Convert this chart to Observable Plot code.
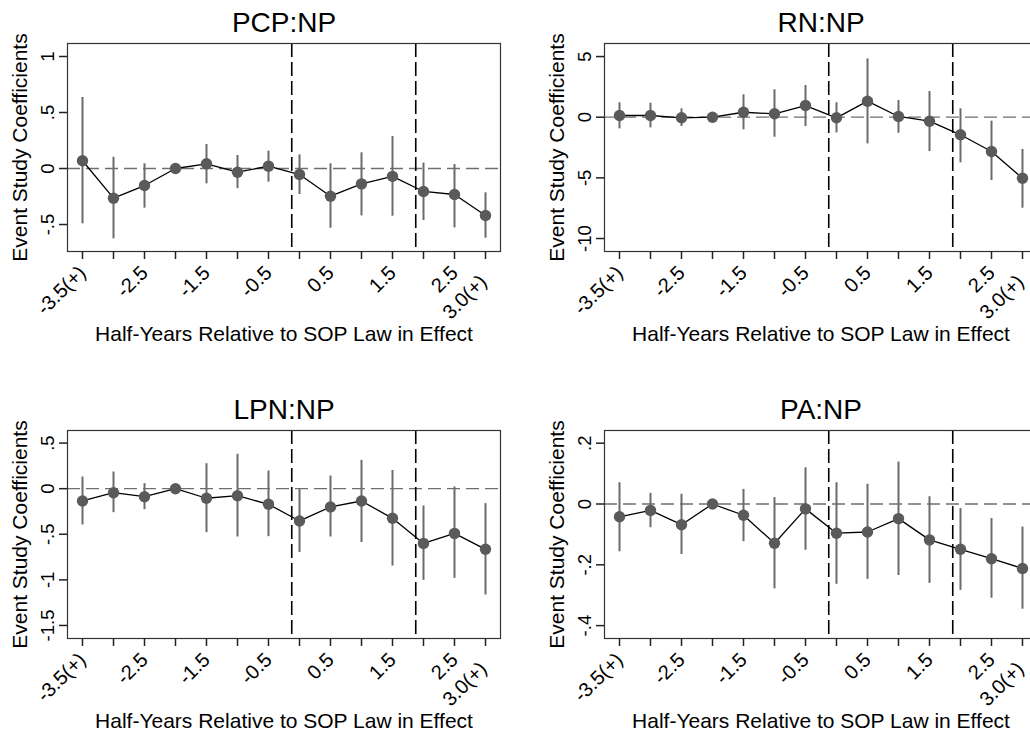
<!DOCTYPE html>
<html><head><meta charset="utf-8">
<script src="https://cdn.jsdelivr.net/npm/d3@7"></script>
<script src="https://cdn.jsdelivr.net/npm/@observablehq/plot@0.6"></script>
<style>
body{margin:0;background:#fff;overflow:hidden}
#wrap{position:relative;width:1030px;height:734px;overflow:hidden;background:#fff}
.panel{position:absolute;width:515px;height:367px}
.panel svg{max-width:none !important;width:515px;height:367px}
</style></head><body><div id="wrap"></div>
<script>
// ---- data ----
const periods = [-3.5,-3,-2.5,-2,-1.5,-1,-0.5,0,0.5,1,1.5,2,2.5,3];
const periodLabels = ["-3.5(+)","","-2.5","","-1.5","","-0.5","","0.5","","1.5","","2.5","3.0(+)"];
const lawLines = [-0.125, 1.875];
const titles = ["PCP:NP","RN:NP","LPN:NP","PA:NP"];
const xTitle = "Half-Years Relative to SOP Law in Effect";
const yTitle = "Event Study Coefficients";

const pcpCoef = [0.069,-0.265,-0.152,0,0.042,-0.033,0.021,-0.054,-0.247,-0.137,-0.07,-0.205,-0.232,-0.42];
const pcpHi   = [0.634,0.10,0.042,null,0.214,0.116,0.155,0.122,0.042,0.14,0.286,0.048,0.036,-0.217];
const pcpLo   = [-0.494,-0.628,-0.354,null,-0.137,-0.18,-0.122,-0.232,-0.533,-0.423,-0.426,-0.464,-0.53,-0.622];
const pcpTicks = [1,0.5,0,-0.5];
const pcpTickLabels = ["1",".5","0","-.5"];

const rnCoef = [0.14,0.14,-0.05,0,0.41,0.28,0.96,-0.05,1.32,0.06,-0.33,-1.45,-2.83,-5.03];
const rnHi   = [1.19,1.15,0.69,null,1.85,2.26,2.61,1.19,4.81,1.37,2.12,0.69,-0.33,-2.66];
const rnLo   = [-0.96,-0.88,-0.77,null,-1.04,-1.65,-0.77,-1.29,-2.2,-1.32,-2.83,-3.76,-5.22,-7.5];
const rnTicks = [5,0,-5,-10];
const rnTickLabels = ["5","0","-5","-10"];

const lpnCoef = [-0.135,-0.044,-0.088,0,-0.105,-0.077,-0.171,-0.354,-0.2,-0.135,-0.325,-0.6,-0.49,-0.665];
const lpnHi   = [0.128,0.183,0.055,null,0.274,0.377,0.194,0.0,0.139,0.311,0.2,-0.19,0.018,-0.164];
const lpnLo   = [-0.398,-0.263,-0.23,null,-0.482,-0.53,-0.526,-0.70,-0.53,-0.59,-0.848,-1.005,-0.983,-1.166];
const lpnTicks = [0.5,0,-0.5,-1,-1.5];
const lpnTickLabels = [".5","0","-.5","-1","-1.5"];

const paCoef = [-0.042,-0.021,-0.068,0,-0.037,-0.129,-0.016,-0.096,-0.092,-0.048,-0.118,-0.149,-0.18,-0.212];
const paHi   = [0.07,0.035,0.032,null,0.048,0.021,0.119,0.07,0.065,0.138,0.024,-0.015,-0.048,-0.076];
const paLo   = [-0.157,-0.078,-0.166,null,-0.124,-0.279,-0.152,-0.264,-0.248,-0.235,-0.261,-0.284,-0.31,-0.346];
const paTicks = [0.2,0,-0.2,-0.4];
const paTickLabels = [".2","0","-.2","-.4"];

// ---- drawing ----
const FONT = "'Liberation Sans', Arial, Helvetica, sans-serif";

function panel(cfg) {
  const rows = periods.map((p, i) => ({p, c: cfg.coef[i], lo: cfg.lo[i], hi: cfg.hi[i]}));
  const ci = rows.filter(d => d.lo != null && d.hi != null);
  const xMap = new Map(periods.map((p, i) => [p, periodLabels[i]]));
  const last = periods[periods.length - 1];
  const yMap = new Map(cfg.ticks.map((v, i) => [v, cfg.tickLabels[i]]));
  return Plot.plot({
    width: 515, height: 367,
    marginLeft: 67, marginRight: 15, marginTop: 43, marginBottom: 116,
    style: {fontFamily: FONT, fontSize: "18px", color: "black", background: "transparent", overflow: "visible"},
    x: {type: "linear", domain: [periods[0], last], insetLeft: 15, insetRight: 15},
    y: {type: "linear", domain: cfg.domain},
    marks: [
      Plot.ruleY([0], {stroke: "#6f6f6f", strokeWidth: 1.3, strokeDasharray: "13,6"}),
      Plot.ruleX(lawLines, {stroke: "black", strokeWidth: 1.6, strokeDasharray: "14,5"}),
      Plot.ruleX(ci, {x: "p", y1: "lo", y2: "hi", stroke: "#6b6b6b", strokeWidth: 2}),
      Plot.line(rows, {x: "p", y: "c", stroke: "black", strokeWidth: 1.3}),
      Plot.dot(rows, {x: "p", y: "c", r: 5.7, fill: "#5a5a5a", stroke: "none"}),
      Plot.frame({stroke: "#333", strokeWidth: 1.2}),
      Plot.axisY({ticks: cfg.ticks, tickFormat: d => yMap.get(d), tickSize: 8, tickRotate: -90, tickPadding: 6,
                  label: null, line: true, stroke: "#222", strokeWidth: 1.5, fontSize: 18.5, fill: "black"}),
      Plot.axisX({ticks: periods, tickFormat: d => d === last ? "" : xMap.get(d), tickSize: 8, tickRotate: -45,
                  tickPadding: 10, label: null, line: true, stroke: "#222", strokeWidth: 1.5, fontSize: 20, fill: "black"}),
      Plot.axisX({ticks: [last], tickFormat: d => xMap.get(d), tickSize: 0, tickPadding: 18, tickRotate: -45,
                  dy: 9, dx: -2, label: null, fontSize: 20, fill: "black"}),
      Plot.text([cfg.title], {frameAnchor: "top", dy: -11.3, lineAnchor: "bottom", textAnchor: "middle", fontSize: 28, text: d => d, fill: "black"}),
      Plot.text([xTitle], {frameAnchor: "bottom", dy: 89.5, lineAnchor: "bottom", textAnchor: "middle", fontSize: 21, text: d => d, fill: "black"}),
      Plot.text([yTitle], {frameAnchor: "left", dx: -40.5, rotate: -90, lineAnchor: "bottom", textAnchor: "middle", fontSize: 21, text: d => d, fill: "black"})
    ]
  });
}

const panels = [
  {title: titles[0], coef: pcpCoef, hi: pcpHi, lo: pcpLo, ticks: pcpTicks, tickLabels: pcpTickLabels, domain: [-0.741, 1.116], left: 0, top: 0},
  {title: titles[1], coef: rnCoef, hi: rnHi, lo: rnLo, ticks: rnTicks, tickLabels: rnTickLabels, domain: [-11.07, 6.076], left: 537, top: 0},
  {title: titles[2], coef: lpnCoef, hi: lpnHi, lo: lpnLo, ticks: lpnTicks, tickLabels: lpnTickLabels, domain: [-1.643, 0.638], left: 0, top: 386.5},
  {title: titles[3], coef: paCoef, hi: paHi, lo: paLo, ticks: paTicks, tickLabels: paTickLabels, domain: [-0.4424, 0.2418], left: 537, top: 386.5}
];

const wrap = document.getElementById("wrap");
for (const cfg of panels) {
  const div = document.createElement("div");
  div.className = "panel";
  div.style.left = cfg.left + "px";
  div.style.top = cfg.top + "px";
  div.appendChild(panel(cfg));
  wrap.appendChild(div);
}
</script>
</body></html>
